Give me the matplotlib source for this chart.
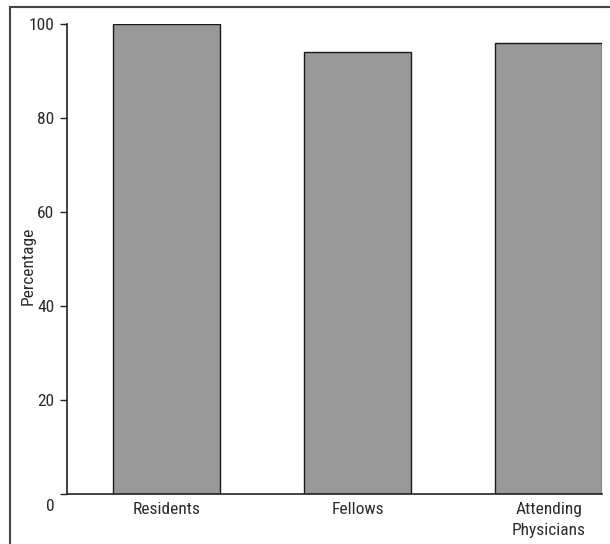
import numpy as np
import matplotlib.pyplot as plt
import matplotlib.transforms as mtransforms
from matplotlib.lines import Line2D
from matplotlib import font_manager

groups = ['Residents', 'Fellows', 'Attending\nPhysicians']
percent = [100, 94, 96]
yticks = [0, 20, 40, 60, 80, 100]

# condensed font if we have one
names = {f.name for f in font_manager.fontManager.ttflist}
fam = 'DejaVu Sans'
for cand in ['Liberation Sans Narrow', 'Roboto Condensed', 'Open Sans Condensed']:
    if cand in names:
        fam = cand
        break
plt.rcParams['font.family'] = [fam, 'DejaVu Sans']
plt.rcParams['font.stretch'] = 'condensed'
plt.rcParams['font.size'] = 12.5

fig = plt.figure(figsize=(6.1, 5.44), dpi=100)
ax = fig.add_axes([0.1098, 0.0928, 0.8779, 0.8631])

x = np.arange(len(groups))
ax.bar(x, percent, width=0.56, color='#999999', edgecolor='#1a1a1a', linewidth=1.0)

ax.set_xlim(-0.522, 2.28)
ax.set_ylim(0, 100)
ax.set_xticks(x)
ax.set_xticklabels(groups, color='#2a2a2a', linespacing=1.55)
ax.set_yticks(yticks)
ax.set_yticklabels([str(v) for v in yticks], color='#2a2a2a')
ax.tick_params(axis='x', length=0, pad=6)
ax.tick_params(axis='y', length=5, width=1, direction='out', pad=4, color='#222222')

# the "0" label sits below the axis line
lab0 = ax.get_yticklabels()[0]
lab0.set_transform(lab0.get_transform() + mtransforms.ScaledTranslation(0, -11 / 100, fig.dpi_scale_trans))

for s in ['top', 'right']:
    ax.spines[s].set_visible(False)
for s in ['left', 'bottom']:
    ax.spines[s].set_color('#222222')
    ax.spines[s].set_linewidth(1.2)

ax.set_ylabel('Percentage', color='#2a2a2a')
ax.yaxis.set_label_coords(-0.058, 0.485)

# outer frame (top and left edges only visible)
fig.add_artist(Line2D([10 / 610, 10 / 610], [0, 1 - 7 / 544], transform=fig.transFigure, color='#444444', lw=1.5))
fig.add_artist(Line2D([10 / 610, 1], [1 - 7 / 544, 1 - 7 / 544], transform=fig.transFigure, color='#444444', lw=1.5))

fig.savefig('out.png', dpi=100)
